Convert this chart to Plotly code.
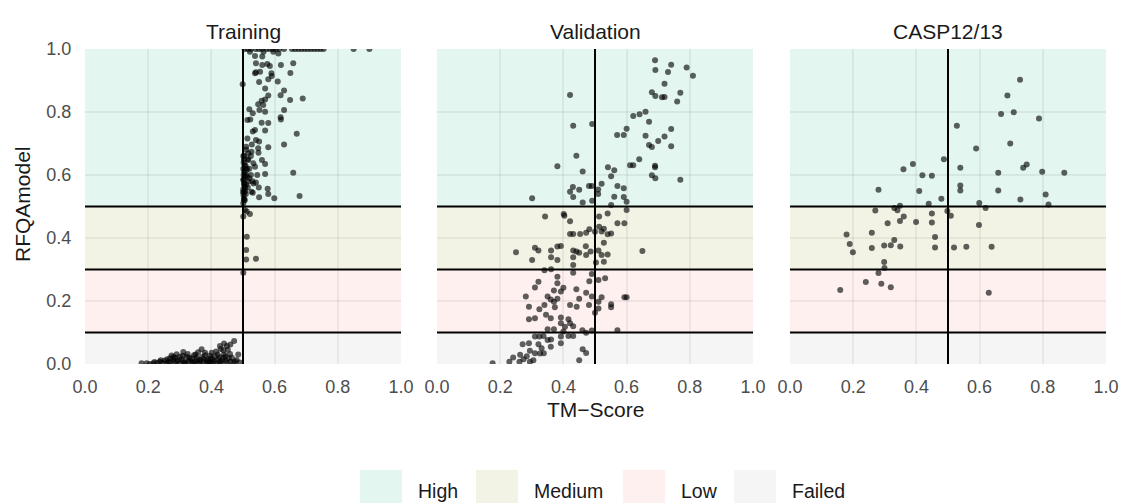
import plotly.graph_objects as go

# ---- data -----------------------------------------------------------------
panels = ["Training", "Validation", "CASP12/13"]

train_tm = [
    0.505, 0.515, 0.525, 0.54, 0.55, 0.56, 0.575, 0.585, 0.595, 0.605, 0.615, 0.63,
    0.655, 0.665, 0.675, 0.685, 0.695, 0.705, 0.715, 0.725, 0.735, 0.745, 0.755, 0.85, 0.90,
    0.522, 0.565, 0.596, 0.612, 0.538, 0.561,
    0.541, 0.561, 0.577, 0.585, 0.620, 0.659,
    0.541, 0.538, 0.554, 0.590, 0.591, 0.650,
    0.580, 0.551, 0.610, 0.499,
    0.570, 0.630, 0.619, 0.580, 0.570, 0.559, 0.649, 0.689,
    0.548, 0.564, 0.520, 0.531, 0.552, 0.570, 0.630,
    0.514, 0.523, 0.619, 0.620, 0.559, 0.580,
    0.538, 0.531, 0.570, 0.670,
    0.514, 0.541, 0.551, 0.580, 0.630, 0.528, 0.510, 0.548,
    0.504, 0.517,
    0.527, 0.549, 0.517, 0.533, 0.560, 0.570, 0.512, 0.538, 0.570, 0.659, 0.517, 0.533,
    0.541, 0.527, 0.531, 0.578, 0.580, 0.551, 0.599, 0.679, 0.506,
    0.501, 0.503, 0.502, 0.505, 0.501, 0.504, 0.502, 0.506, 0.501, 0.503, 0.505, 0.501,
    0.504, 0.502, 0.508, 0.509, 0.510, 0.507, 0.503, 0.501,
    0.502, 0.504, 0.506, 0.500, 0.509, 0.503, 0.511, 0.513, 0.515, 0.520, 0.520, 0.525,
    0.530, 0.515, 0.510, 0.525, 0.545, 0.550,
    0.506, 0.512, 0.522, 0.501, 0.512, 0.510, 0.510, 0.541, 0.501,
    0.472, 0.427, 0.449, 0.438, 0.459, 0.369, 0.380, 0.401, 0.311, 0.290, 0.300, 0.321,
    0.337, 0.353, 0.364, 0.385, 0.406, 0.422, 0.438, 0.396, 0.269, 0.253, 0.237, 0.279,
    0.290, 0.311, 0.327, 0.348, 0.375, 0.401, 0.427, 0.480, 0.216, 0.195, 0.179, 0.259,
    0.300, 0.343, 0.385, 0.417, 0.274, 0.358,
    0.205, 0.228, 0.245, 0.265, 0.283, 0.318, 0.333, 0.360, 0.370, 0.390, 0.410, 0.430,
    0.445, 0.455, 0.440, 0.415, 0.305, 0.345, 0.325, 0.392, 0.355, 0.285, 0.460, 0.470,
    0.452, 0.430,
    0.220, 0.240, 0.260, 0.270, 0.280, 0.295, 0.310, 0.315, 0.330, 0.340, 0.350, 0.365,
    0.375, 0.380, 0.395, 0.400, 0.410, 0.420, 0.425, 0.435, 0.445, 0.450, 0.465, 0.475,
    0.490, 0.485, 0.460, 0.440,
]
train_rfqa = [
    1.0, 1.0, 1.0, 1.0, 1.0, 1.0, 1.0, 1.0, 1.0, 1.0, 1.0, 1.0,
    1.0, 1.0, 1.0, 1.0, 1.0, 1.0, 1.0, 1.0, 1.0, 1.0, 1.0, 1.0, 1.0,
    0.991, 0.991, 0.991, 0.986, 0.978, 0.976,
    0.955, 0.949, 0.952, 0.946, 0.949, 0.955,
    0.926, 0.923, 0.928, 0.923, 0.914, 0.924,
    0.904, 0.895, 0.897, 0.888,
    0.875, 0.868, 0.853, 0.852, 0.840, 0.836, 0.838, 0.843,
    0.825, 0.822, 0.809, 0.796, 0.806, 0.801, 0.806,
    0.775, 0.776, 0.783, 0.776, 0.766, 0.765,
    0.743, 0.738, 0.741, 0.731,
    0.716, 0.711, 0.706, 0.688, 0.697, 0.697, 0.690, 0.685,
    0.661, 0.669,
    0.674, 0.671, 0.648, 0.637, 0.648, 0.635, 0.621, 0.626, 0.603, 0.607, 0.579, 0.573,
    0.576, 0.547, 0.544, 0.556, 0.540, 0.529, 0.526, 0.533, 0.521,
    0.660, 0.650, 0.640, 0.630, 0.620, 0.610, 0.600, 0.595, 0.585, 0.575, 0.565, 0.555,
    0.545, 0.535, 0.630, 0.600, 0.570, 0.550, 0.525, 0.510,
    0.585, 0.570, 0.560, 0.545, 0.540, 0.520, 0.615, 0.595, 0.560, 0.590, 0.620, 0.600,
    0.580, 0.650, 0.680, 0.660, 0.600, 0.560,
    0.489, 0.484, 0.476, 0.468, 0.404, 0.362, 0.332, 0.334, 0.290,
    0.073, 0.057, 0.057, 0.044, 0.032, 0.047, 0.036, 0.036, 0.038, 0.031, 0.023, 0.023,
    0.018, 0.020, 0.013, 0.011, 0.013, 0.015, 0.020, 0.026, 0.018, 0.011, 0.008, 0.013,
    0.008, 0.008, 0.008, 0.008, 0.006, 0.005, 0.007, 0.013, 0.002, 0.002, 0.002, 0.002,
    0.002, 0.002, 0.002, 0.002, 0.027, 0.037,
    0.000, 0.003, 0.004, 0.006, 0.005, 0.003, 0.012, 0.004, 0.022, 0.017, 0.024, 0.003,
    0.010, 0.018, 0.030, 0.040, 0.015, 0.028, 0.032, 0.008, 0.012, 0.020, 0.008, 0.004,
    0.045, 0.048,
    0.006, 0.012, 0.015, 0.005, 0.022, 0.012, 0.026, 0.005, 0.020, 0.005, 0.030, 0.006,
    0.016, 0.028, 0.004, 0.018, 0.008, 0.030, 0.022, 0.011, 0.025, 0.004, 0.020, 0.008,
    0.005, 0.030, 0.062, 0.065,
]

valid_tm = [
    0.690, 0.741, 0.790, 0.691, 0.731, 0.810, 0.720, 0.680, 0.691, 0.712, 0.720, 0.770,
    0.760, 0.421, 0.660, 0.641, 0.621, 0.671, 0.431, 0.491, 0.600, 0.741, 0.570, 0.591,
    0.660, 0.720, 0.700, 0.671, 0.680, 0.741, 0.441, 0.381, 0.461, 0.640, 0.611, 0.621,
    0.690, 0.690, 0.541, 0.561, 0.551, 0.680, 0.691, 0.770, 0.521, 0.490, 0.481, 0.430,
    0.450, 0.421, 0.510, 0.510, 0.431, 0.491, 0.461, 0.571, 0.591, 0.561, 0.591, 0.600,
    0.551, 0.301,
    0.342, 0.401, 0.403, 0.421, 0.513, 0.540, 0.600, 0.571, 0.593, 0.513, 0.528, 0.421,
    0.431, 0.453, 0.472, 0.482, 0.500, 0.521, 0.540, 0.551, 0.528, 0.250, 0.310, 0.321,
    0.361, 0.381, 0.392, 0.301, 0.361, 0.381, 0.431, 0.441, 0.450, 0.471, 0.472, 0.431,
    0.486, 0.503, 0.521, 0.540, 0.528, 0.511, 0.650, 0.431, 0.361, 0.340, 0.431, 0.381,
    0.381, 0.490, 0.511, 0.482, 0.532, 0.321, 0.310, 0.400, 0.370, 0.392, 0.441, 0.472,
    0.281, 0.350, 0.360, 0.370, 0.381, 0.450, 0.490, 0.521, 0.511, 0.551, 0.593, 0.600,
    0.551, 0.291, 0.324, 0.340, 0.373, 0.421, 0.442, 0.481, 0.511, 0.500, 0.345, 0.360,
    0.291, 0.310, 0.392, 0.392, 0.416, 0.421, 0.405, 0.431, 0.350, 0.370, 0.460, 0.472,
    0.490, 0.571, 0.416, 0.431, 0.400, 0.392, 0.310, 0.324, 0.337, 0.350, 0.361, 0.392,
    0.360, 0.271, 0.291, 0.321, 0.331, 0.294, 0.310, 0.326, 0.338, 0.263, 0.241, 0.229,
    0.176, 0.294, 0.305, 0.284, 0.461, 0.472, 0.450, 0.261, 0.274,
]
valid_rfqa = [
    0.964, 0.950, 0.941, 0.933, 0.927, 0.915, 0.890, 0.863, 0.851, 0.847, 0.848, 0.861,
    0.833, 0.854, 0.801, 0.793, 0.787, 0.769, 0.756, 0.762, 0.747, 0.746, 0.727, 0.727,
    0.725, 0.722, 0.708, 0.695, 0.689, 0.691, 0.661, 0.628, 0.611, 0.650, 0.631, 0.631,
    0.629, 0.625, 0.625, 0.615, 0.596, 0.599, 0.590, 0.585, 0.572, 0.565, 0.565, 0.562,
    0.553, 0.547, 0.554, 0.540, 0.530, 0.518, 0.513, 0.565, 0.558, 0.531, 0.530, 0.515,
    0.505, 0.526,
    0.468, 0.476, 0.471, 0.453, 0.468, 0.478, 0.489, 0.447, 0.447, 0.436, 0.429, 0.413,
    0.413, 0.413, 0.417, 0.428, 0.420, 0.421, 0.412, 0.414, 0.385, 0.355, 0.369, 0.360,
    0.360, 0.373, 0.375, 0.330, 0.339, 0.330, 0.360, 0.357, 0.353, 0.374, 0.346, 0.339,
    0.357, 0.322, 0.346, 0.348, 0.325, 0.360, 0.359, 0.314, 0.301, 0.298, 0.290, 0.277,
    0.256, 0.286, 0.267, 0.263, 0.272, 0.261, 0.243, 0.242, 0.233, 0.230, 0.237, 0.226,
    0.214, 0.214, 0.205, 0.198, 0.207, 0.207, 0.214, 0.212, 0.198, 0.190, 0.212, 0.212,
    0.180, 0.182, 0.174, 0.187, 0.180, 0.187, 0.182, 0.187, 0.176, 0.163, 0.156, 0.145,
    0.142, 0.145, 0.148, 0.129, 0.142, 0.129, 0.118, 0.120, 0.110, 0.110, 0.107, 0.099,
    0.106, 0.107, 0.089, 0.089, 0.103, 0.087, 0.087, 0.087, 0.089, 0.076, 0.078, 0.066,
    0.055, 0.063, 0.066, 0.063, 0.050, 0.042, 0.034, 0.033, 0.034, 0.029, 0.021, 0.007,
    0.002, 0.007, 0.012, 0.025, 0.047, 0.035, 0.012, 0.007, 0.015,
]

casp_tm = [
    0.728, 0.688, 0.668, 0.708, 0.788, 0.528, 0.697, 0.589, 0.487, 0.389, 0.359, 0.539,
    0.738, 0.749, 0.659, 0.798, 0.868, 0.419, 0.449, 0.280, 0.409, 0.539, 0.539, 0.659,
    0.809, 0.729, 0.479, 0.439, 0.599, 0.818, 0.619, 0.330, 0.348, 0.340, 0.270, 0.360,
    0.348, 0.309, 0.399, 0.449, 0.449, 0.498, 0.509, 0.598, 0.179, 0.259, 0.189, 0.199,
    0.259, 0.298, 0.319, 0.330, 0.349, 0.459, 0.459, 0.519, 0.558, 0.638, 0.298, 0.299,
    0.280, 0.240, 0.289, 0.319, 0.159, 0.629,
]
casp_rfqa = [
    0.902, 0.852, 0.794, 0.799, 0.779, 0.756, 0.700, 0.684, 0.650, 0.635, 0.618, 0.623,
    0.623, 0.633, 0.607, 0.610, 0.607, 0.599, 0.598, 0.553, 0.549, 0.567, 0.551, 0.551,
    0.538, 0.522, 0.525, 0.509, 0.511, 0.506, 0.495, 0.495, 0.502, 0.488, 0.487, 0.468,
    0.454, 0.447, 0.451, 0.478, 0.449, 0.486, 0.471, 0.441, 0.411, 0.417, 0.381, 0.355,
    0.368, 0.376, 0.377, 0.394, 0.373, 0.403, 0.370, 0.370, 0.372, 0.372, 0.324, 0.305,
    0.289, 0.260, 0.255, 0.244, 0.235, 0.226,
]

# quality bands on the RFQAmodel axis
band_names = ["High", "Medium", "Low", "Failed"]
band_low = [0.5, 0.3, 0.1, 0.0]
band_high = [1.0, 0.5, 0.3, 0.1]
cutoffs_rfqa = [0.1, 0.3, 0.5]
cutoff_tm = 0.5

axis_ticks = [0.0, 0.2, 0.4, 0.6, 0.8, 1.0]

# ---- styling --------------------------------------------------------------
W, H = 1122, 503
FONT = "Liberation Sans, Arial, sans-serif"
band_fill = {"High": "#E3F6F0", "Medium": "#F3F3E5", "Low": "#FDF0EF", "Failed": "#F5F5F5"}
grid_col = "rgba(0,0,0,0.055)"
point_col = "rgba(0,0,0,0.62)"
TICK_SIZE = 18
TITLE_SIZE = 21

panel_px = [(85, 401), (437, 753), (790, 1106)]
y_top_px, y_bot_px = 49, 364
ydom = [1 - y_bot_px / H, 1 - y_top_px / H]

series = [(train_tm, train_rfqa), (valid_tm, valid_rfqa), (casp_tm, casp_rfqa)]

fig = go.Figure()
layout = dict(
    width=W, height=H,
    margin=dict(l=0, r=0, t=0, b=0, autoexpand=False),
    paper_bgcolor="white", plot_bgcolor="white",
    showlegend=False,
    font=dict(family=FONT, color="#4D4D4D"),
)
shapes, annotations = [], []

for i, (name, (xs, ys), (x0, x1)) in enumerate(zip(panels, series, panel_px)):
    n = "" if i == 0 else str(i + 1)
    xa, ya = "x" + n, "y" + n
    fig.add_trace(go.Scatter(
        x=xs, y=ys, mode="markers", xaxis=xa, yaxis=ya,
        marker=dict(size=6, color=point_col, line=dict(width=0)),
        hoverinfo="x+y",
    ))
    common = dict(
        range=[0, 1], tickvals=axis_ticks, tickformat=".1f",
        showgrid=True, gridcolor=grid_col, gridwidth=1.5,
        zeroline=False, showline=False, automargin=False,
        ticks="outside", tickcolor="rgba(0,0,0,0)",
        tickfont=dict(size=TICK_SIZE, color="#4D4D4D", family=FONT),
        fixedrange=True,
    )
    layout["xaxis" + n] = dict(common, domain=[x0 / W, x1 / W], anchor=ya, ticklen=6)
    layout["yaxis" + n] = dict(common, domain=ydom, anchor=xa,
                               showticklabels=(i == 0), ticklen=9)
    xref, yref = xa, ya
    for b, lo, hi in zip(band_names, band_low, band_high):
        shapes.append(dict(type="rect", xref=xref, yref=yref, x0=0, x1=1, y0=lo, y1=hi,
                           fillcolor=band_fill[b], line=dict(width=0), layer="below"))
    for c in cutoffs_rfqa:
        shapes.append(dict(type="line", xref=xref, yref=yref, x0=0, x1=1, y0=c, y1=c,
                           line=dict(color="black", width=2), layer="between"))
    shapes.append(dict(type="line", xref=xref, yref=yref, x0=cutoff_tm, x1=cutoff_tm,
                       y0=0, y1=1, line=dict(color="black", width=2), layer="between"))
    annotations.append(dict(text=name, xref="paper", yref="paper",
                            x=(x0 + x1) / 2 / W, y=1 - 31 / H, xanchor="center",
                            yanchor="middle", showarrow=False,
                            font=dict(size=TITLE_SIZE, color="#1A1A1A", family=FONT)))

# axis titles
annotations.append(dict(text="TM\u2212Score", xref="paper", yref="paper",
                        x=(85 + 1106) / 2 / W, y=1 - 409 / H, xanchor="center",
                        yanchor="middle", showarrow=False,
                        font=dict(size=TITLE_SIZE, color="#1A1A1A", family=FONT)))
annotations.append(dict(text="RFQAmodel", xref="paper", yref="paper",
                        x=22 / W, y=1 - 204 / H, xanchor="center", yanchor="middle",
                        textangle=-90, showarrow=False,
                        font=dict(size=TITLE_SIZE, color="#1A1A1A", family=FONT)))

# legend keys for the quality bands
key_x = [360, 476, 623, 734]
for b, kx in zip(band_names, key_x):
    shapes.append(dict(type="rect", xref="paper", yref="paper",
                       x0=kx / W, x1=(kx + 42) / W, y0=-0.02, y1=1 - 470 / H,
                       fillcolor=band_fill[b], line=dict(width=0)))
    annotations.append(dict(text=b, xref="paper", yref="paper",
                            x=(kx + 56) / W, y=1 - 491 / H, xanchor="left",
                            yanchor="middle", showarrow=False,
                            font=dict(size=TITLE_SIZE - 1.5, color="#1A1A1A", family=FONT)))

layout["shapes"] = shapes
layout["annotations"] = annotations
fig.update_layout(**layout)
# let the figure sit flush against the page edges
fig.write_html("out.html", post_script="document.body.style.margin='0';")
